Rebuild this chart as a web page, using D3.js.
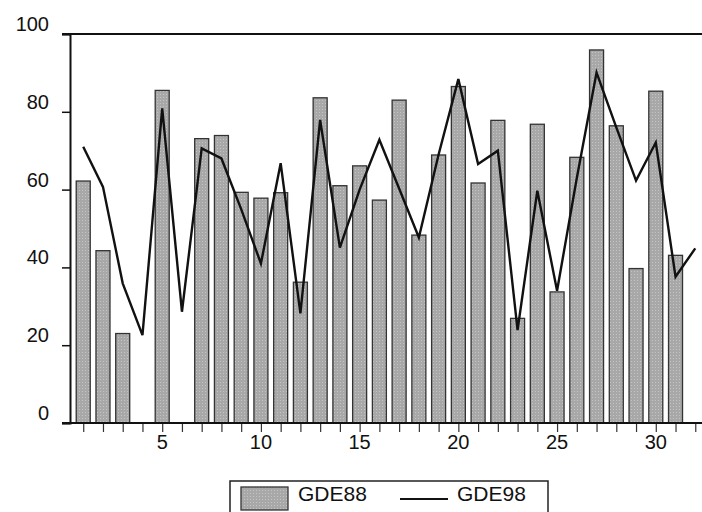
<!DOCTYPE html>
<html>
<head>
<meta charset="utf-8">
<script src="https://cdn.jsdelivr.net/npm/d3@7"></script>
<style>
  html, body { margin: 0; padding: 0; background: #fff; }
  svg { display: block; }
  text { font-family: "Liberation Sans", Arial, Helvetica, sans-serif; fill: #111; }
</style>
</head>
<body>
<svg id="chart" width="702" height="512"></svg>
<script>
const categories = d3.range(1, 33);
const gde88 = [62.2, 44.3, 23.0, null, 85.5, null, 73.1, 73.9, 59.3, 57.8,
               59.2, 36.2, 83.6, 61.0, 66.1, 57.3, 83.0, 48.3, 68.9, 86.5,
               61.7, 77.8, 26.9, 76.8, 33.7, 68.3, 95.9, 76.4, 39.7, 85.3,
               43.1, null];
const gde98 = [71.0, 60.7, 35.9, 22.6, 80.9, 28.6, 70.6, 68.0, 55.0, 41.0,
               66.8, 28.2, 77.9, 45.1, 60.0, 72.8, 60.3, 47.7, 69.0, 88.4,
               66.6, 70.0, 23.9, 59.7, 34.0, 63.0, 90.1, 76.0, 62.3, 72.1,
               37.6, 44.9];
const yTicks = [0, 20, 40, 60, 80, 100];
const xLabelTicks = [5, 10, 15, 20, 25, 30];
const seriesNames = ["GDE88", "GDE98"];

const svg = d3.select("#chart");
const x = d3.scaleLinear().domain([0.33, 32.67]).range([70, 708.5]);
const y = d3.scaleLinear().domain([0, 100]).range([423, 34]);

// pattern for stippled bars
const defs = svg.append("defs");
const pat = defs.append("pattern").attr("id", "stip").attr("patternUnits", "userSpaceOnUse")
  .attr("width", 3).attr("height", 3);
pat.append("rect").attr("width", 3).attr("height", 3).attr("fill", "#a8a8a8");
pat.append("rect").attr("x", 1).attr("y", 1).attr("width", 1).attr("height", 1).attr("fill", "#c4c4c4");

const barW = 14;
const barData = categories.map((c, i) => ({c, v: gde88[i]})).filter(d => d.v != null);
svg.append("g").selectAll("rect").data(barData).join("rect")
  .attr("x", d => x(d.c) - barW / 2)
  .attr("y", d => y(d.v))
  .attr("width", barW)
  .attr("height", d => y(0) - y(d.v))
  .attr("fill", "url(#stip)")
  .attr("stroke", "#333")
  .attr("stroke-width", 1.3);

// line
const line = d3.line().x((d, i) => x(categories[i])).y(d => y(d));
svg.append("path").datum(gde98)
  .attr("d", line)
  .attr("fill", "none")
  .attr("stroke", "#111")
  .attr("stroke-width", 2.4)
  .attr("stroke-linejoin", "miter");

// y axis
const yAxis = d3.axisLeft(y).tickValues(yTicks).tickSize(8).tickFormat("");
const gy = svg.append("g").attr("transform", "translate(70,0)").call(yAxis);
gy.select(".domain").attr("stroke", "#111").attr("stroke-width", 2);
gy.selectAll(".tick line").attr("stroke", "#111").attr("stroke-width", 1.5);
svg.append("g").selectAll("text").data(yTicks).join("text")
  .attr("x", 49)
  .attr("y", d => y(d) - 10)
  .attr("dy", "0.35em")
  .attr("text-anchor", "end")
  .attr("font-size", 20)
  .text(d => d);

// x axis
const xAxis = d3.axisBottom(x).tickValues(categories).tickSize(9).tickFormat("");
const gx = svg.append("g").attr("transform", "translate(0,423)").call(xAxis);
gx.select(".domain").remove();
gx.selectAll(".tick line").attr("stroke", "#333").attr("stroke-width", 1.2);
svg.append("line").attr("x1", 62).attr("x2", 702).attr("y1", y(0)).attr("y2", y(0))
  .attr("stroke", "#111").attr("stroke-width", 2);
svg.append("g").selectAll("text").data(xLabelTicks).join("text")
  .attr("x", d => x(d))
  .attr("y", 449)
  .attr("text-anchor", "middle")
  .attr("font-size", 20)
  .text(d => d);

// top border
svg.append("line").attr("x1", 62).attr("x2", 702).attr("y1", y(100)).attr("y2", y(100))
  .attr("stroke", "#111").attr("stroke-width", 2);

// legend
const lg = svg.append("g");
lg.append("rect").attr("x", 230).attr("y", 481).attr("width", 318).attr("height", 40)
  .attr("fill", "#fff").attr("stroke", "#222").attr("stroke-width", 1.5);
lg.append("rect").attr("x", 241).attr("y", 487).attr("width", 47).attr("height", 23)
  .attr("fill", "url(#stip)").attr("stroke", "#333").attr("stroke-width", 1.3);
lg.append("text").attr("x", 298).attr("y", 501).attr("font-size", 21).text(seriesNames[0]);
lg.append("line").attr("x1", 400).attr("x2", 448).attr("y1", 499).attr("y2", 499)
  .attr("stroke", "#111").attr("stroke-width", 2);
lg.append("text").attr("x", 457).attr("y", 501).attr("font-size", 21).text(seriesNames[1]);
</script>
</body>
</html>
